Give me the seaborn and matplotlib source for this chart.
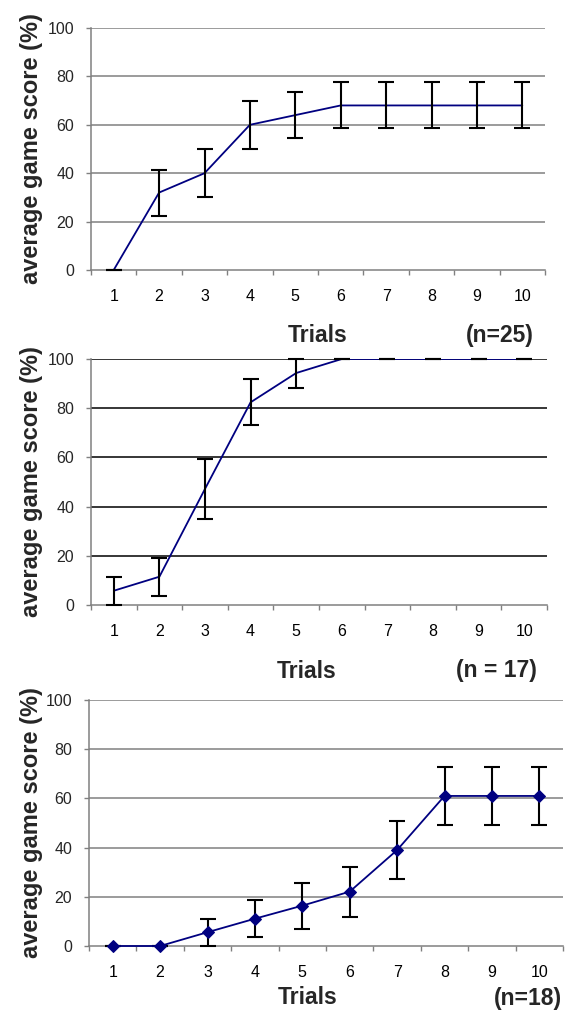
import matplotlib
matplotlib.use("Agg")
import matplotlib.pyplot as plt
import seaborn as sns
import numpy as np

trials = [1, 2, 3, 4, 5, 6, 7, 8, 9, 10]
tick_labels = ["1", "2", "3", "4", "5", "6", "7", "8", "9", "10"]

scores_a = [0, 32, 40, 60, 64, 68, 68, 68, 68, 68]
err_a = [0, 9.5, 10, 10, 9.5, 9.5, 9.5, 9.5, 9.5, 9.5]
label_a = "(n=25)"

scores_b = [5.8, 11.5, 47.2, 82.4, 94.3, 100, 100, 100, 100, 100]
err_b = [5.7, 7.7, 12.2, 9.4, 5.9, 0, 0, 0, 0, 0]
label_b = "(n = 17)"

scores_c = [0, 0, 5.6, 11.1, 16.4, 22.1, 39.0, 61.0, 61.0, 61.0]
err_c = [0, 0, 5.5, 7.6, 9.4, 10.2, 11.8, 11.8, 11.8, 11.8]
label_c = "(n=18)"

sns.set_style("white")
plt.rcParams['font.family'] = ['Liberation Sans', 'DejaVu Sans']

W, H = 570, 1011
fig = plt.figure(figsize=(W / 100, H / 100), dpi=100)

NAVY = "#000080"
GRAY = "#808080"


def px_axes(left, right, top, bottom):
    return fig.add_axes([left / W, 1 - bottom / H, (right - left) / W, (bottom - top) / H])


panels = [
    dict(box=(91, 545, 28, 270), y=scores_a, e=err_a, n=label_a, grid=GRAY, marker=None,
         xlab_x=318, xlab_y=336, n_right=534, n_y=336, pad=13.5),
    dict(box=(91, 547, 359, 605), y=scores_b, e=err_b, n=label_b, grid="black", marker=None,
         xlab_x=307, xlab_y=671, n_right=537, n_y=671, pad=13.5),
    dict(box=(89, 563, 700, 946), y=scores_c, e=err_c, n=label_c, grid=GRAY, marker="D",
         xlab_x=308, xlab_y=998, n_right=562, n_y=998, pad=14),
]

for p in panels:
    ax = px_axes(*p["box"])
    if p["marker"]:
        sns.lineplot(x=trials, y=p["y"], ax=ax, color=NAVY, linewidth=1.3,
                     marker="D", markersize=6.3, markeredgecolor=NAVY,
                     markerfacecolor=NAVY, zorder=4, clip_on=False)
        ezo = 3
    else:
        sns.lineplot(x=trials, y=p["y"], ax=ax, color=NAVY, linewidth=1.3, zorder=3)
        ezo = 4
    ax.errorbar(trials, p["y"], yerr=p["e"], fmt="none", ecolor="black",
                elinewidth=1.5, capsize=5.8, capthick=1.5, zorder=ezo, clip_on=False)

    ax.set_xlim(0.5, 10.5)
    ax.set_ylim(0, 100)
    ax.set_yticks([0, 20, 40, 60, 80, 100])
    ax.set_yticklabels(["0", "20", "40", "60", "80", "100"])
    ax.set_xticks(trials)
    ax.set_xticklabels(tick_labels)
    ax.set_xticks(np.arange(0.5, 11, 1.0), minor=True)

    for yv in [20, 40, 60, 80, 100]:
        ax.axhline(yv, color=p["grid"], linewidth=1.1, zorder=1)

    for s in ["top", "right"]:
        ax.spines[s].set_visible(False)
    for s in ["left", "bottom"]:
        ax.spines[s].set_color(GRAY)
        ax.spines[s].set_linewidth(1.1)

    ax.tick_params(axis="x", which="major", length=0, pad=p["pad"], labelsize=11.5,
                   labelcolor="black")
    ax.tick_params(axis="x", which="minor", length=3.6, width=1.0, color=GRAY,
                   direction="out", bottom=True)
    ax.tick_params(axis="y", which="major", length=3.6, width=1.0, color=GRAY,
                   direction="out", left=True, pad=8.5, labelsize=11.5)

    ax.set_xlabel("")
    ax.set_ylabel("average game score (%)", fontsize=17, fontweight="bold")
    left_px = p["box"][0]
    width_px = p["box"][1] - p["box"][0]
    ax.yaxis.set_label_coords((43 - left_px) / width_px, 0.5)

    fig.text(p["xlab_x"] / W, 1 - p["xlab_y"] / H, "Trials", fontsize=16.5,
             fontweight="bold", ha="center", va="center")
    fig.text(p["n_right"] / W, 1 - p["n_y"] / H, p["n"], fontsize=16.5,
             fontweight="bold", ha="right", va="center")

fig.savefig("out.png", dpi=100)
